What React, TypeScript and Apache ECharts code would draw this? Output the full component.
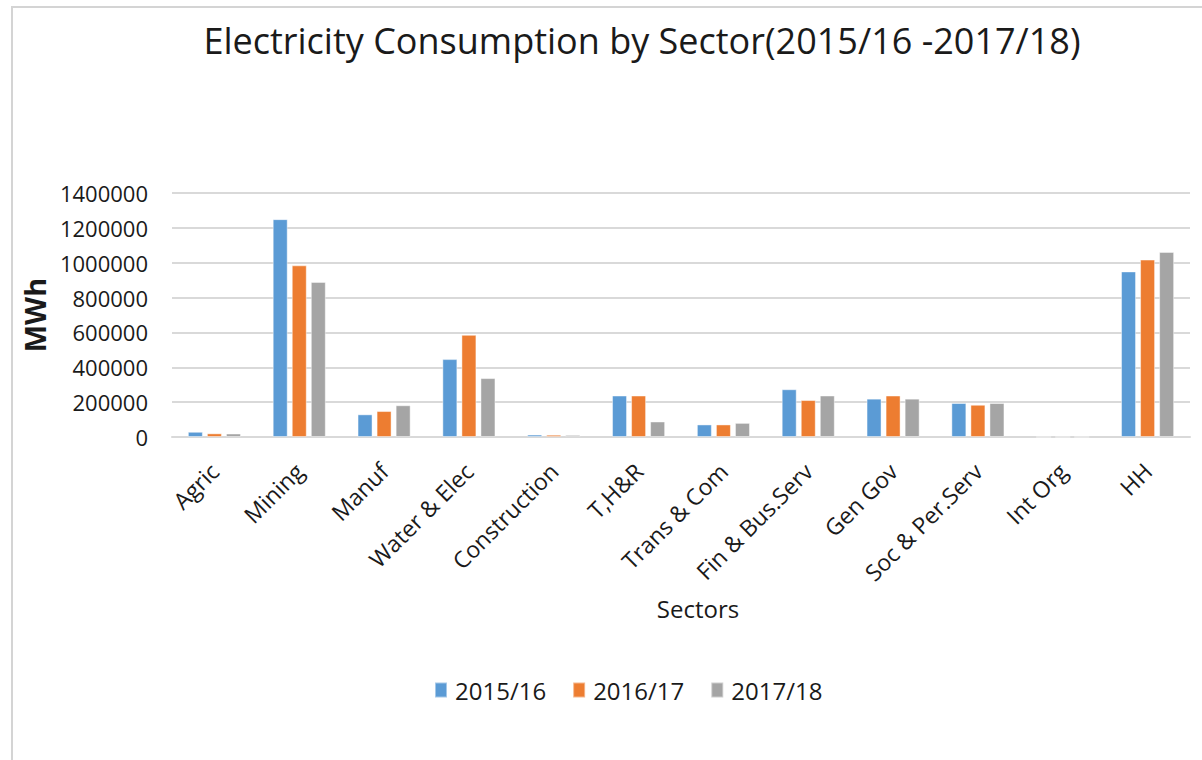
import React, { useEffect, useRef } from "react";
import * as echarts from "echarts";

const categories = [
  "Agric",
  "Mining",
  "Manuf",
  "Water & Elec",
  "Construction",
  "T,H&R",
  "Trans & Com",
  "Fin & Bus.Serv",
  "Gen Gov",
  "Soc & Per.Serv",
  "Int Org",
  "HH",
];

const seriesNames = ["2015/16", "2016/17", "2017/18"];

const values2015 = [30000, 1250000, 130000, 447000, 14000, 238000, 72000, 274000, 220000, 195000, 0, 950000];
const values2016 = [21000, 985000, 149000, 586000, 13000, 238000, 72000, 212000, 238000, 185000, 0, 1018000];
const values2017 = [20000, 890000, 182000, 338000, 12000, 89000, 81000, 238000, 220000, 195000, 0, 1062000];

const yTicks = { min: 0, max: 1400000, interval: 200000 };

const colors = ["#5B9BD5", "#ED7D31", "#A5A5A5"];
const FONT = "'Open Sans', 'Noto Sans', sans-serif";
const TEXT = "#1a1a1a";

export default function App() {
  const ref = useRef<HTMLDivElement>(null);

  useEffect(() => {
    if (!ref.current) return;
    const chart = echarts.init(ref.current, undefined, { renderer: "svg" });
    const data = [values2015, values2016, values2017];
    chart.setOption({
      animation: false,
      backgroundColor: "#ffffff",
      textStyle: { fontFamily: FONT },
      title: {
        text: "Electricity Consumption by Sector(2015/16 -2017/18)",
        left: 637,
        top: 17,
        textAlign: "center",
        textStyle: { fontFamily: FONT, fontSize: 36, fontWeight: "normal", color: TEXT },
      },
      graphic: [
        {
          type: "rect",
          shape: { x: 12, y: 7, width: 1400, height: 1000 },
          style: { fill: "none", stroke: "#d4d4d4", lineWidth: 2 },
          silent: true,
          z: -1,
        },
        {
          type: "text",
          x: 698,
          y: 608,
          style: {
            text: "Sectors",
            fontFamily: FONT,
            fontSize: 24,
            fill: TEXT,
            align: "center",
            verticalAlign: "middle",
          },
        },
      ],
      legend: {
        data: seriesNames,
        left: 429,
        top: 673,
        itemWidth: 12,
        itemHeight: 15,
        itemGap: 26,
        icon: "rect",
        textStyle: { fontFamily: FONT, fontSize: 24, color: TEXT, padding: [0, 0, 0, 3] },
      },
      grid: { left: 172, right: 12, top: 193, bottom: 323, containLabel: false },
      xAxis: {
        type: "category",
        data: categories,
        axisTick: { show: false },
        axisLine: { lineStyle: { color: "#d9d9d9", width: 2 } },
        axisLabel: {
          interval: 0,
          rotate: 45,
          margin: 30,
          fontFamily: FONT,
          fontSize: 23,
          color: TEXT,
        },
      },
      yAxis: {
        type: "value",
        min: yTicks.min,
        max: yTicks.max,
        interval: yTicks.interval,
        name: "MWh",
        nameLocation: "middle",
        nameGap: 120,
        nameTextStyle: { fontFamily: FONT, fontSize: 29, fontWeight: "bold", color: TEXT },
        axisLine: { show: false },
        axisTick: { show: false },
        splitLine: { lineStyle: { color: "#d9d9d9", width: 2 } },
        axisLabel: {
          fontFamily: FONT,
          fontSize: 22,
          color: TEXT,
          margin: 24,
          formatter: (v: number) => String(v),
        },
      },
      series: seriesNames.map((name, i) => ({
        name,
        type: "bar",
        data: data[i],
        barWidth: 15,
        barGap: "27%",
        itemStyle: {
          color: colors[i],
          borderColor: "rgba(255,255,255,0.45)",
          borderWidth: 1,
        },
      })),
    });
    return () => chart.dispose();
  }, []);

  return (
    <div
      ref={ref}
      style={{ position: "fixed", left: 0, top: 0, width: 1202, height: 760 }}
    />
  );
}
